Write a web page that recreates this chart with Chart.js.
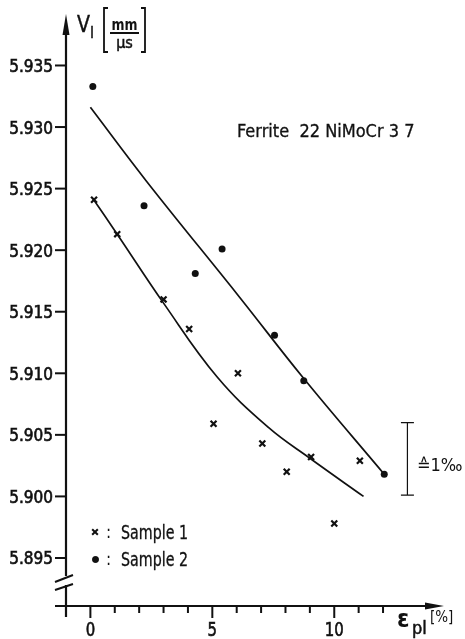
<!DOCTYPE html>
<html>
<head>
<meta charset="utf-8">
<script src="https://cdn.jsdelivr.net/npm/chart.js@4.4.1/dist/chart.umd.min.js"></script>
<style>
  html, body { margin: 0; padding: 0; background: #fff; }
  canvas { display: block; }
</style>
</head>
<body>
<canvas id="chart" width="465" height="639"></canvas>
<script>
// Longitudinal sound velocity V_l [mm/µs] versus plastic strain ε_pl [%]
const sample1Strain   = [0.15, 1.1, 3.0, 4.05, 5.05, 6.05, 7.05, 8.05, 9.05, 10.0, 11.05];
const sample1Velocity = [5.9241, 5.9213, 5.9160, 5.9136, 5.9059, 5.9100, 5.9043, 5.9020, 5.9032, 5.8978, 5.9029];

const sample2Strain   = [0.1, 2.2, 4.3, 5.4, 7.55, 8.75, 12.05];
const sample2Velocity = [5.9333, 5.9236, 5.9181, 5.9201, 5.9131, 5.9094, 5.9018];

// Hand-drawn trend curves through each sample
const trend1Strain   = [0.1, 1.1, 3.0, 5.2, 7.3, 9.0, 11.2];
const trend1Velocity = [5.9242, 5.9213, 5.9157, 5.9097, 5.9056, 5.9031, 5.9000];

const trend2Strain   = [0.0, 2.3, 6.15, 8.7, 12.05];
const trend2Velocity = [5.9316, 5.9256, 5.9161, 5.9097, 5.9018];

// Axis ticks
const yTickValues = [5.895, 5.900, 5.905, 5.910, 5.915, 5.920, 5.925, 5.930, 5.935];
const yTickLabels = ['5.895', '5.900', '5.905', '5.910', '5.915', '5.920', '5.925', '5.930', '5.935'];
const xTickValues = [-1, 0, 1, 2, 3, 4, 5, 6, 7, 8, 9, 10, 11, 12];
const xLabelValues = [0, 5, 10];
const xLabelTexts  = ['0', '5', '10'];

// Reference bar: 1 per mille of V_l
const permilleBar = { strain: 13.0, from: 5.9001, to: 5.9060 };

const X_MIN = -1, X_MAX = 14.5;
const Y_MIN = 5.8911, Y_MAX = 5.9391;

const INK = '#111';
const FONT = '"DejaVu Sans Condensed", "DejaVu Sans", "Liberation Sans", sans-serif';

function text(ctx, str, x, y, size, opts = {}) {
  ctx.save();
  ctx.font = (opts.weight || 'normal') + ' ' + size + 'px ' + FONT;
  ctx.fillStyle = INK;
  ctx.strokeStyle = INK;
  ctx.textAlign = opts.align || 'left';
  ctx.textBaseline = opts.baseline || 'alphabetic';
  const w = opts.width;
  if (w) ctx.fillText(str, x, y, w); else ctx.fillText(str, x, y);
  if (opts.stroke) {
    ctx.lineWidth = opts.stroke;
    if (w) ctx.strokeText(str, x, y, w); else ctx.strokeText(str, x, y);
  }
  ctx.restore();
}

const axesPlugin = {
  id: 'technicalAxes',
  afterDatasetsDraw(chart) {
    const { ctx } = chart;
    const xs = chart.scales.x, ys = chart.scales.y;
    const ax = xs.getPixelForValue(X_MIN);      // vertical axis position
    const ay = ys.getPixelForValue(Y_MIN);      // horizontal axis position
    const top = ys.getPixelForValue(Y_MAX);
    const right = xs.getPixelForValue(X_MAX);

    ctx.save();
    ctx.strokeStyle = INK;
    ctx.fillStyle = INK;
    ctx.lineCap = 'butt';

    // Vertical axis with break marks and arrow
    ctx.lineWidth = 2.2;
    const breakTop = ay - 30, breakBottom = ay - 21;
    ctx.beginPath();
    ctx.moveTo(ax, top + 16);
    ctx.lineTo(ax, breakTop);
    ctx.moveTo(ax, breakBottom);
    ctx.lineTo(ax, ay + 11);
    ctx.stroke();
    ctx.lineWidth = 2;
    ctx.beginPath();
    ctx.moveTo(ax - 11, breakTop + 6); ctx.lineTo(ax + 7, breakTop - 1);
    ctx.moveTo(ax - 11, breakBottom + 5); ctx.lineTo(ax + 7, breakBottom - 1);
    ctx.stroke();
    ctx.beginPath();
    ctx.moveTo(ax, top - 1);
    ctx.lineTo(ax - 3.5, top + 20);
    ctx.lineTo(ax + 3.5, top + 20);
    ctx.closePath();
    ctx.fill();

    // Horizontal axis with arrow
    ctx.lineWidth = 2.2;
    ctx.beginPath();
    ctx.moveTo(ax - 11, ay);
    ctx.lineTo(right - 16, ay);
    ctx.stroke();
    ctx.beginPath();
    ctx.moveTo(right, ay);
    ctx.lineTo(right - 19, ay - 3.5);
    ctx.lineTo(right - 19, ay + 3.5);
    ctx.closePath();
    ctx.fill();

    // Y ticks and labels
    ctx.lineWidth = 2;
    yTickValues.forEach((v, i) => {
      const py = ys.getPixelForValue(v);
      ctx.beginPath();
      ctx.moveTo(ax - 11, py);
      ctx.lineTo(ax, py);
      ctx.stroke();
      text(ctx, yTickLabels[i], ax - 13, py + 6.5, 17, { align: 'right', width: 44, stroke: 0.6 });
    });

    // X ticks and labels
    ctx.lineWidth = 2;
    xTickValues.forEach(v => {
      if (v === X_MIN) return;
      const px = xs.getPixelForValue(v);
      const major = xLabelValues.includes(v);
      ctx.beginPath();
      ctx.moveTo(px, ay);
      ctx.lineTo(px, ay + (major ? 12 : 7));
      ctx.stroke();
    });
    xLabelValues.forEach((v, i) => {
      const px = xs.getPixelForValue(v);
      text(ctx, xLabelTexts[i], px, 636, 20, { align: 'center', width: xLabelTexts[i].length * 9.5, stroke: 0.6 });
    });

    // Axis titles
    text(ctx, 'V', 77, 32, 23, { width: 13, stroke: 0.4 });
    text(ctx, 'l', 90, 38, 16, { width: 5, stroke: 0.4 });
    ctx.lineWidth = 1.8;
    ctx.beginPath();
    ctx.moveTo(108, 8); ctx.lineTo(104, 8); ctx.lineTo(104, 52); ctx.lineTo(108, 52);
    ctx.moveTo(141, 8); ctx.lineTo(145, 8); ctx.lineTo(145, 52); ctx.lineTo(141, 52);
    ctx.moveTo(110, 33); ctx.lineTo(139, 33);
    ctx.stroke();
    text(ctx, 'mm', 124.5, 30, 15, { align: 'center', width: 26, weight: 'bold' });
    text(ctx, 'µs', 124.5, 48, 16, { align: 'center', width: 22, stroke: 0.5 });

    text(ctx, 'ε', 397, 627, 25, { width: 15, weight: 'bold' });
    text(ctx, 'pl', 412, 634, 18, { width: 16, stroke: 0.5 });
    text(ctx, '[%]', 430, 622, 15, { width: 30 });

    // Material annotation
    text(ctx, 'Ferrite  22 NiMoCr 3 7', 237, 137, 18, { width: 186, stroke: 0.3 });

    // 1 per mille reference bar
    const bx = xs.getPixelForValue(permilleBar.strain);
    const b1 = ys.getPixelForValue(permilleBar.to);
    const b2 = ys.getPixelForValue(permilleBar.from);
    ctx.lineWidth = 1.2;
    ctx.beginPath();
    ctx.moveTo(bx, b1); ctx.lineTo(bx, b2);
    ctx.moveTo(bx - 6.5, b1); ctx.lineTo(bx + 6.5, b1);
    ctx.moveTo(bx - 6.5, b2); ctx.lineTo(bx + 6.5, b2);
    ctx.stroke();
    text(ctx, '≙1‰', 417, 471, 18, { width: 50 });

    // Legend
    const h = Chart.helpers;
    ctx.strokeStyle = INK; ctx.fillStyle = INK; ctx.lineWidth = 2;
    h.drawPoint(ctx, { pointStyle: 'crossRot', radius: 4, borderWidth: 2 }, 95, 532);
    h.drawPoint(ctx, { pointStyle: 'circle', radius: 3.2, borderWidth: 0 }, 95.5, 559.5);
    ctx.fill();
    text(ctx, ':', 106, 538, 17);
    text(ctx, ':', 106, 565, 17);
    text(ctx, 'Sample 1', 121, 539, 19, { width: 67, stroke: 0.3 });
    text(ctx, 'Sample 2', 121, 566, 19, { width: 67, stroke: 0.3 });

    ctx.restore();
  }
};

new Chart(document.getElementById('chart'), {
  type: 'scatter',
  data: {
    datasets: [
      {
        label: 'Sample 1 trend',
        data: trend1Strain.map((x, i) => ({ x, y: trend1Velocity[i] })),
        showLine: true, pointRadius: 0, borderColor: INK, borderWidth: 1.7,
        tension: 0.4, fill: false
      },
      {
        label: 'Sample 2 trend',
        data: trend2Strain.map((x, i) => ({ x, y: trend2Velocity[i] })),
        showLine: true, pointRadius: 0, borderColor: INK, borderWidth: 1.7,
        tension: 0.4, fill: false
      },
      {
        label: 'Sample 1',
        data: sample1Strain.map((x, i) => ({ x, y: sample1Velocity[i] })),
        pointStyle: 'crossRot', pointRadius: 4.2, pointBorderWidth: 2.2,
        borderColor: INK, backgroundColor: INK
      },
      {
        label: 'Sample 2',
        data: sample2Strain.map((x, i) => ({ x, y: sample2Velocity[i] })),
        pointStyle: 'circle', pointRadius: 3.5, pointBorderWidth: 0,
        borderColor: INK, backgroundColor: INK
      }
    ]
  },
  options: {
    responsive: false,
    devicePixelRatio: 1,
    animation: false,
    layout: { padding: { left: 66, right: 21, top: 15, bottom: 33 } },
    scales: {
      x: { type: 'linear', min: X_MIN, max: X_MAX, display: false },
      y: { type: 'linear', min: Y_MIN, max: Y_MAX, display: false }
    },
    plugins: { legend: { display: false }, tooltip: { enabled: false } },
    events: []
  },
  plugins: [axesPlugin]
});
</script>
</body>
</html>
